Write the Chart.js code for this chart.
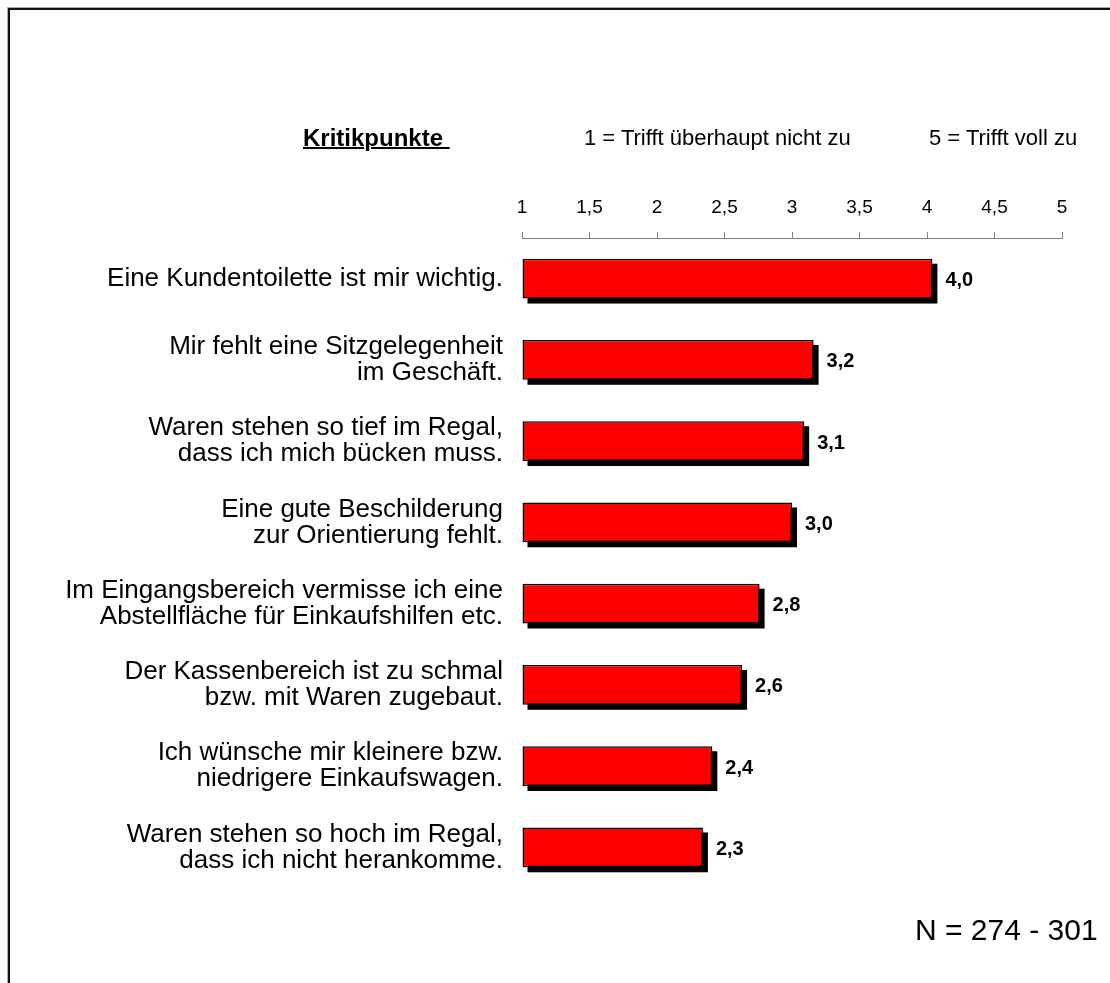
<!DOCTYPE html>
<html>
<head>
<meta charset="utf-8">
<script src="https://cdn.jsdelivr.net/npm/chart.js@4.4.0/dist/chart.umd.min.js"></script>
<style>
  html, body { margin: 0; padding: 0; background: #fff; }
  body { width: 1110px; height: 983px; position: relative; overflow: hidden; font-family: 'Liberation Sans', Arial, sans-serif; }
  #frame { position: absolute; left: 8px; top: 8px; width: 1200px; height: 1200px; border-left: 2px solid #111; border-top: 2px solid #111; box-shadow: -1px -1px 0 #aaa; }
  canvas { position: absolute; left: 0; top: 0; }
  .t { position: absolute; white-space: nowrap; color: #000; line-height: 1; }
</style>
</head>
<body>
<div id="frame"></div>
<canvas id="c" width="1110" height="983"></canvas>
<div class="t" style="left:303px; top:126px; font-size:24px; font-weight:bold; text-decoration:underline; text-decoration-thickness:2px;">Kritikpunkte&nbsp;</div>
<div class="t" style="left:584px; top:127px; font-size:22px;">1 = Trifft überhaupt nicht zu</div>
<div class="t" style="left:929px; top:127px; font-size:22px;">5 = Trifft voll zu</div>
<div class="t" style="left:915px; top:915px; font-size:30px;">N = 274 - 301</div>
<script>
const categories = [
  ["Eine Kundentoilette ist mir wichtig."],
  ["Mir fehlt eine Sitzgelegenheit", "im Geschäft."],
  ["Waren stehen so tief im Regal,", "dass ich mich bücken muss."],
  ["Eine gute Beschilderung", "zur Orientierung fehlt."],
  ["Im Eingangsbereich vermisse ich eine", "Abstellfläche für Einkaufshilfen etc."],
  ["Der Kassenbereich ist zu schmal", "bzw. mit Waren zugebaut."],
  ["Ich wünsche mir kleinere bzw.", "niedrigere Einkaufswagen."],
  ["Waren stehen so hoch im Regal,", "dass ich nicht herankomme."]
];
const values = [4.04, 3.16, 3.09, 3.0, 2.76, 2.63, 2.41, 2.34];
const valueLabels = ["4,0", "3,2", "3,1", "3,0", "2,8", "2,6", "2,4", "2,3"];
const tickLabels = ["1", "1,5", "2", "2,5", "3", "3,5", "4", "4,5", "5"];

const FONT = "'Liberation Sans', Arial, sans-serif";

const shadowPlugin = {
  id: 'shadow',
  beforeDatasetsDraw(chart) {
    const ctx = chart.ctx;
    const meta = chart.getDatasetMeta(0);
    ctx.save();
    ctx.fillStyle = '#000';
    meta.data.forEach(el => {
      const p = el.getProps(['x', 'y', 'base', 'height'], true);
      const left = Math.max(Math.min(p.base, p.x), chart.chartArea.left);
      const w = Math.max(p.base, p.x) - left;
      ctx.fillRect(left + 5, p.y - p.height / 2 + 5, w, p.height);
    });
    ctx.restore();
  },
  afterDatasetsDraw(chart) {
    const ctx = chart.ctx;
    const meta = chart.getDatasetMeta(0);
    ctx.save();
    ctx.fillStyle = '#000';
    ctx.font = "bold 20px " + FONT;
    ctx.textAlign = 'left';
    ctx.textBaseline = 'middle';
    meta.data.forEach((el, i) => {
      const p = el.getProps(['x', 'y'], true);
      ctx.fillText(valueLabels[i], p.x + 13, p.y + 2);
    });
    ctx.restore();
  }
};

new Chart(document.getElementById('c'), {
  type: 'bar',
  data: {
    labels: categories,
    datasets: [{
      data: values,
      base: 1,
      backgroundColor: '#ff0000',
      borderColor: '#000',
      borderWidth: 1.5,
      borderSkipped: false,
      categoryPercentage: 1,
      barPercentage: 0.49
    }]
  },
  options: {
    indexAxis: 'y',
    responsive: false,
    animation: false,
    devicePixelRatio: 1,
    layout: { padding: { left: 0, top: 0, right: 48, bottom: 95 } },
    plugins: { legend: { display: false }, tooltip: { enabled: false } },
    scales: {
      x: {
        position: 'top',
        min: 1,
        max: 5,
        afterFit(scale) { scale.height = 238; },
        ticks: {
          stepSize: 0.5,
          color: '#000',
          font: { family: FONT, size: 19 },
          padding: 13,
          maxRotation: 0,
          callback: (v, i) => tickLabels[i]
        },
        grid: { display: true, drawOnChartArea: false, drawTicks: true, tickLength: 6, color: '#808080', lineWidth: 1 },
        border: { display: true, color: '#808080', width: 1 }
      },
      y: {
        afterFit(scale) { scale.width = 522; },
        ticks: {
          color: '#000',
          font: { family: FONT, size: 26, lineHeight: 1.0 },
          padding: 19
        },
        grid: { display: false, drawTicks: false },
        border: { display: false }
      }
    }
  },
  plugins: [shadowPlugin]
});
</script>
</body>
</html>
